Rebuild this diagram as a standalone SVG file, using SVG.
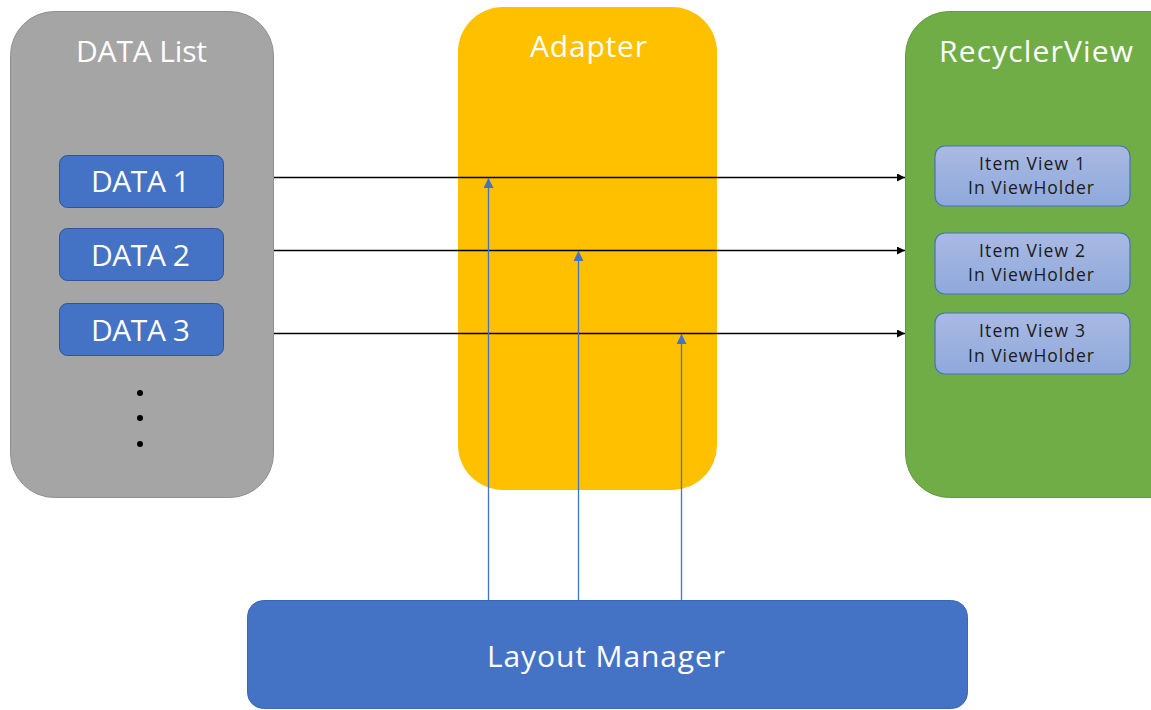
<svg xmlns="http://www.w3.org/2000/svg" width="1151" height="710" viewBox="0 0 1151 710">
  <style>
    .title { font-family: "Open Sans", "Noto Sans", sans-serif; fill: #ffffff; text-anchor: middle; }
    .data { fill: #4472c4; stroke: #2f5597; stroke-width: 1; }
    .item { fill: url(#itemFill); stroke: #4472c4; stroke-width: 1.2; }
    .itemText { font-family: "Open Sans", "Noto Sans", sans-serif; font-size: 17.5px; fill: #1a1a1a; text-anchor: middle; }
    .flow { stroke: #000000; stroke-width: 1.3; fill: none; marker-end: url(#arrowBlack); }
    .ctrl { stroke: #4472c4; stroke-width: 1.3; fill: none; marker-end: url(#arrowBlue); }
  </style>
  <defs>
    <linearGradient id="itemFill" x1="0" y1="0" x2="0" y2="1">
      <stop offset="0" stop-color="#aab9e2"/>
      <stop offset="1" stop-color="#8ea9db"/>
    </linearGradient>
    <marker id="arrowBlack" viewBox="0 0 10 10" refX="10" refY="5" markerWidth="10" markerHeight="8" markerUnits="userSpaceOnUse" orient="auto">
      <path d="M0,0 L10,5 L0,10 Z" fill="#000000"/>
    </marker>
    <marker id="arrowBlue" viewBox="0 0 10 10" refX="10" refY="5" markerWidth="11" markerHeight="10" markerUnits="userSpaceOnUse" orient="auto">
      <path d="M0,0 L10,5 L0,10 Z" fill="#4472c4"/>
    </marker>
  </defs>

  <rect width="1151" height="710" fill="#ffffff"/>

  <g id="data-list">
    <rect x="10.5" y="11.5" width="263" height="486" rx="44" fill="#a5a5a5" stroke="#8f8f8f" stroke-width="1"/>
    <text class="title" x="141.5" y="62" font-size="30" textLength="131" lengthAdjust="spacing">DATA List</text>
  </g>

  <g id="data-1">
    <rect class="data" x="59.5" y="155.5" width="164" height="52" rx="8"/>
    <text class="title" x="140.5" y="192" font-size="30" textLength="99" lengthAdjust="spacing">DATA 1</text>
  </g>
  <g id="data-2">
    <rect class="data" x="59.5" y="228.5" width="164" height="52" rx="8"/>
    <text class="title" x="140.5" y="266" font-size="30" textLength="99" lengthAdjust="spacing">DATA 2</text>
  </g>
  <g id="data-3">
    <rect class="data" x="59.5" y="303.5" width="164" height="52" rx="8"/>
    <text class="title" x="140.5" y="341" font-size="30" textLength="99" lengthAdjust="spacing">DATA 3</text>
  </g>
  <g id="ellipsis" fill="#000000">
    <circle cx="140" cy="393" r="3"/>
    <circle cx="140" cy="418" r="3"/>
    <circle cx="140" cy="444" r="3"/>
  </g>

  <g id="adapter">
    <rect x="458" y="7" width="259" height="483" rx="45" fill="#ffc000"/>
    <text class="title" x="588.5" y="57" font-size="30" textLength="117" lengthAdjust="spacing">Adapter</text>
  </g>

  <g id="recycler-view">
    <rect x="905.5" y="11.5" width="290" height="486" rx="44" fill="#70ad47" stroke="#5f9a3b" stroke-width="1"/>
    <text class="title" x="1036" y="62" font-size="30" textLength="194" lengthAdjust="spacing">RecyclerView</text>
  </g>

  <g id="item-view-1">
    <rect class="item" x="935" y="146" width="195" height="60" rx="10"/>
    <text class="itemText" x="1032" y="170" textLength="106" lengthAdjust="spacing">Item View 1</text>
    <text class="itemText" x="1031" y="194" textLength="126" lengthAdjust="spacing">In ViewHolder</text>
  </g>
  <g id="item-view-2">
    <rect class="item" x="935" y="233" width="195" height="61" rx="10"/>
    <text class="itemText" x="1032" y="257" textLength="106" lengthAdjust="spacing">Item View 2</text>
    <text class="itemText" x="1031" y="281" textLength="126" lengthAdjust="spacing">In ViewHolder</text>
  </g>
  <g id="item-view-3">
    <rect class="item" x="935" y="313" width="195" height="61" rx="10"/>
    <text class="itemText" x="1032" y="337" textLength="106" lengthAdjust="spacing">Item View 3</text>
    <text class="itemText" x="1031" y="361.5" textLength="126" lengthAdjust="spacing">In ViewHolder</text>
  </g>

  <g id="layout-manager">
    <rect x="247.5" y="600.5" width="720" height="108" rx="16" fill="#4472c4" stroke="#3b66b3" stroke-width="1"/>
    <text class="title" x="606" y="667" font-size="30" textLength="238" lengthAdjust="spacing">Layout Manager</text>
  </g>

  <g id="connectors">
    <line class="flow" x1="274" y1="177.5" x2="905" y2="177.5"/>
    <line class="flow" x1="274" y1="250.5" x2="905" y2="250.5"/>
    <line class="flow" x1="274" y1="333.5" x2="905" y2="333.5"/>
    <line class="ctrl" x1="488.5" y1="600" x2="488.5" y2="178"/>
    <line class="ctrl" x1="578.5" y1="600" x2="578.5" y2="251"/>
    <line class="ctrl" x1="681.5" y1="600" x2="681.5" y2="334"/>
  </g>
</svg>
